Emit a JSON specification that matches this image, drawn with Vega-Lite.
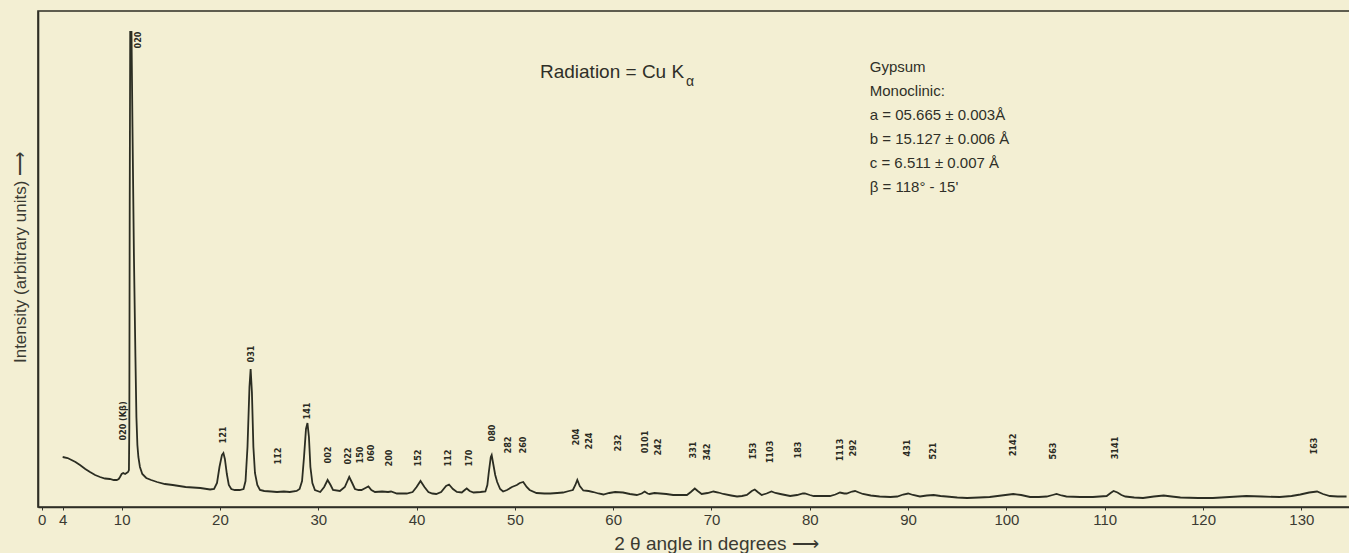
{
  "$schema": "https://vega.github.io/schema/vega-lite/v6.json",
  "width": 1312,
  "height": 496,
  "autosize": {"type": "none"},
  "padding": {"left": 38, "top": 11, "right": 0, "bottom": 46},
  "background": "#f3efd3",
  "config": {"view": {"stroke": "#2e2e25", "strokeWidth": 1.6}, "font": "Liberation Sans"},
  "datasets": {
    "pattern": [
      {"angle":4.0,"intensity":50},{"angle":4.5,"intensity":49},{"angle":4.9,"intensity":47},{"angle":5.3,"intensity":45},{"angle":5.76,"intensity":42},{"angle":6.3,"intensity":38},{"angle":6.78,"intensity":35},{"angle":7.3,"intensity":32},{"angle":7.8,"intensity":30},{"angle":8.3,"intensity":28.5},{"angle":8.8,"intensity":28},{"angle":9.2,"intensity":27},{"angle":9.5,"intensity":27},{"angle":9.7,"intensity":28},{"angle":9.83,"intensity":30},{"angle":10.0,"intensity":33},{"angle":10.16,"intensity":34},{"angle":10.35,"intensity":33},{"angle":10.5,"intensity":34},{"angle":10.65,"intensity":35},{"angle":10.74,"intensity":37},{"angle":10.78,"intensity":80},{"angle":10.82,"intensity":300},{"angle":10.87,"intensity":475},{"angle":11.0,"intensity":475},{"angle":11.1,"intensity":380},{"angle":11.25,"intensity":250},{"angle":11.4,"intensity":150},{"angle":11.5,"intensity":90},{"angle":11.6,"intensity":62},{"angle":11.7,"intensity":50},{"angle":11.86,"intensity":40},{"angle":12.1,"intensity":33},{"angle":12.5,"intensity":29},{"angle":13.0,"intensity":27},{"angle":13.6,"intensity":25},{"angle":14.4,"intensity":23},{"angle":15.2,"intensity":22},{"angle":16.5,"intensity":20},{"angle":18.0,"intensity":19},{"angle":19.0,"intensity":17.5},{"angle":19.4,"intensity":18},{"angle":19.7,"intensity":24},{"angle":19.95,"intensity":40},{"angle":20.2,"intensity":52},{"angle":20.35,"intensity":54},{"angle":20.5,"intensity":48},{"angle":20.7,"intensity":33},{"angle":20.9,"intensity":22},{"angle":21.15,"intensity":18},{"angle":21.5,"intensity":17},{"angle":22.0,"intensity":17},{"angle":22.4,"intensity":18},{"angle":22.6,"intensity":26},{"angle":22.8,"intensity":60},{"angle":23.0,"intensity":120},{"angle":23.12,"intensity":138},{"angle":23.25,"intensity":115},{"angle":23.4,"intensity":60},{"angle":23.56,"intensity":34},{"angle":23.8,"intensity":22},{"angle":24.07,"intensity":17},{"angle":24.5,"intensity":16},{"angle":25.2,"intensity":15.5},{"angle":25.8,"intensity":15},{"angle":26.5,"intensity":15.5},{"angle":27.1,"intensity":15},{"angle":27.8,"intensity":16},{"angle":28.1,"intensity":18},{"angle":28.35,"intensity":26},{"angle":28.55,"intensity":50},{"angle":28.75,"intensity":78},{"angle":28.9,"intensity":84},{"angle":29.05,"intensity":70},{"angle":29.2,"intensity":40},{"angle":29.4,"intensity":24},{"angle":29.66,"intensity":17},{"angle":30.2,"intensity":15},{"angle":30.6,"intensity":20},{"angle":30.95,"intensity":27},{"angle":31.25,"intensity":22},{"angle":31.5,"intensity":17},{"angle":32.2,"intensity":16},{"angle":32.7,"intensity":20},{"angle":33.15,"intensity":30},{"angle":33.45,"intensity":24},{"angle":33.73,"intensity":18},{"angle":34.1,"intensity":17},{"angle":34.4,"intensity":17},{"angle":34.8,"intensity":19},{"angle":35.1,"intensity":20.5},{"angle":35.4,"intensity":17},{"angle":35.77,"intensity":15},{"angle":36.5,"intensity":15.5},{"angle":37.1,"intensity":15},{"angle":37.4,"intensity":15.5},{"angle":38.0,"intensity":13.5},{"angle":39.0,"intensity":13.5},{"angle":39.6,"intensity":15},{"angle":40.0,"intensity":20},{"angle":40.4,"intensity":26},{"angle":40.8,"intensity":20},{"angle":41.2,"intensity":15},{"angle":41.6,"intensity":13.5},{"angle":42.0,"intensity":13},{"angle":42.5,"intensity":15},{"angle":43.0,"intensity":21},{"angle":43.3,"intensity":22.5},{"angle":43.7,"intensity":18},{"angle":44.1,"intensity":15},{"angle":44.6,"intensity":14.5},{"angle":44.9,"intensity":17},{"angle":45.1,"intensity":18.5},{"angle":45.4,"intensity":16},{"angle":45.8,"intensity":14.5},{"angle":46.5,"intensity":15},{"angle":47.0,"intensity":15.5},{"angle":47.2,"intensity":22},{"angle":47.35,"intensity":35},{"angle":47.55,"intensity":50},{"angle":47.64,"intensity":52},{"angle":47.8,"intensity":43},{"angle":48.0,"intensity":32},{"angle":48.2,"intensity":25},{"angle":48.5,"intensity":18},{"angle":48.8,"intensity":15.5},{"angle":49.2,"intensity":17},{"angle":49.7,"intensity":20},{"angle":50.2,"intensity":22},{"angle":50.5,"intensity":24},{"angle":50.85,"intensity":25},{"angle":51.2,"intensity":20},{"angle":51.5,"intensity":17},{"angle":52.2,"intensity":14},{"angle":53.0,"intensity":13.5},{"angle":53.6,"intensity":13.5},{"angle":54.3,"intensity":14},{"angle":54.9,"intensity":14.5},{"angle":55.5,"intensity":16},{"angle":55.9,"intensity":17},{"angle":56.15,"intensity":22},{"angle":56.35,"intensity":27},{"angle":56.6,"intensity":21},{"angle":56.96,"intensity":16.5},{"angle":57.5,"intensity":16},{"angle":57.98,"intensity":15},{"angle":58.5,"intensity":13.5},{"angle":59.0,"intensity":12.5},{"angle":59.6,"intensity":14},{"angle":60.2,"intensity":15},{"angle":61.0,"intensity":14.5},{"angle":61.7,"intensity":13},{"angle":62.4,"intensity":12},{"angle":62.9,"intensity":13.5},{"angle":63.2,"intensity":15.5},{"angle":63.5,"intensity":13.5},{"angle":63.7,"intensity":13},{"angle":64.2,"intensity":14},{"angle":64.8,"intensity":13.5},{"angle":65.4,"intensity":13},{"angle":66.1,"intensity":12},{"angle":67.5,"intensity":12},{"angle":67.9,"intensity":15},{"angle":68.3,"intensity":18.5},{"angle":68.6,"intensity":16},{"angle":69.0,"intensity":13},{"angle":69.6,"intensity":14},{"angle":70.2,"intensity":15.5},{"angle":70.7,"intensity":14.5},{"angle":71.2,"intensity":13},{"angle":72.0,"intensity":11.5},{"angle":72.6,"intensity":10.5},{"angle":73.1,"intensity":11},{"angle":73.6,"intensity":12},{"angle":74.1,"intensity":16},{"angle":74.4,"intensity":17.5},{"angle":74.7,"intensity":15},{"angle":75.1,"intensity":12},{"angle":75.6,"intensity":13.5},{"angle":76.1,"intensity":15.5},{"angle":76.5,"intensity":14},{"angle":77.0,"intensity":13},{"angle":77.5,"intensity":12},{"angle":78.0,"intensity":11},{"angle":78.7,"intensity":12},{"angle":79.3,"intensity":13.5},{"angle":79.5,"intensity":13.5},{"angle":80.0,"intensity":12},{"angle":80.4,"intensity":11},{"angle":81.2,"intensity":11},{"angle":82.05,"intensity":11},{"angle":82.6,"intensity":12.5},{"angle":83.07,"intensity":14.5},{"angle":83.5,"intensity":13.5},{"angle":83.75,"intensity":13.5},{"angle":84.3,"intensity":15.5},{"angle":84.6,"intensity":16},{"angle":85.0,"intensity":14.5},{"angle":85.4,"intensity":13},{"angle":86.2,"intensity":11.5},{"angle":87.1,"intensity":10.5},{"angle":88.2,"intensity":10},{"angle":88.9,"intensity":10.5},{"angle":89.5,"intensity":12.5},{"angle":90.0,"intensity":13.5},{"angle":90.5,"intensity":12},{"angle":91.2,"intensity":10.5},{"angle":91.9,"intensity":11.5},{"angle":92.6,"intensity":12},{"angle":93.3,"intensity":11},{"angle":93.9,"intensity":10.5},{"angle":95.0,"intensity":9.5},{"angle":96.0,"intensity":9},{"angle":97.2,"intensity":9.5},{"angle":98.3,"intensity":10},{"angle":99.5,"intensity":11.5},{"angle":100.7,"intensity":13},{"angle":101.5,"intensity":12},{"angle":102.4,"intensity":10},{"angle":103.3,"intensity":10},{"angle":104.1,"intensity":10.5},{"angle":104.7,"intensity":12},{"angle":105.1,"intensity":13},{"angle":105.6,"intensity":11.5},{"angle":106.1,"intensity":10.5},{"angle":107.5,"intensity":10},{"angle":108.8,"intensity":10},{"angle":109.5,"intensity":10.5},{"angle":110.2,"intensity":11},{"angle":110.6,"intensity":14},{"angle":110.9,"intensity":16},{"angle":111.3,"intensity":14.5},{"angle":111.7,"intensity":12},{"angle":112.1,"intensity":10.5},{"angle":113.0,"intensity":9.5},{"angle":113.9,"intensity":9},{"angle":115.0,"intensity":10.5},{"angle":116.0,"intensity":11.5},{"angle":116.8,"intensity":10.5},{"angle":117.7,"intensity":9.5},{"angle":119.5,"intensity":9},{"angle":121.0,"intensity":9},{"angle":122.7,"intensity":10},{"angle":124.4,"intensity":11},{"angle":126.0,"intensity":10.5},{"angle":127.8,"intensity":10},{"angle":129.0,"intensity":11},{"angle":129.9,"intensity":12.5},{"angle":130.8,"intensity":14.5},{"angle":131.6,"intensity":15.5},{"angle":132.2,"intensity":13},{"angle":132.9,"intensity":11},{"angle":133.7,"intensity":10.5},{"angle":134.6,"intensity":10.5}
    ],
    "peaks": [
      {"label":"020 (Kβ)","angle":10.13,"level":86},
      {"label":"020","angle":11.69,"level":467},
      {"label":"12̄1","angle":20.34,"level":72},
      {"label":"031","angle":23.12,"level":153},
      {"label":"11̄2","angle":25.9,"level":51},
      {"label":"14̄1","angle":28.82,"level":96},
      {"label":"002","angle":30.96,"level":52},
      {"label":"022","angle":33.05,"level":51},
      {"label":"150","angle":34.24,"level":52},
      {"label":"060","angle":35.36,"level":54},
      {"label":"200","angle":37.22,"level":49},
      {"label":"15̄2","angle":40.17,"level":49},
      {"label":"112","angle":43.22,"level":49},
      {"label":"170","angle":45.36,"level":49},
      {"label":"080","angle":47.67,"level":74},
      {"label":"28̄2","angle":49.33,"level":62},
      {"label":"260","angle":50.79,"level":62},
      {"label":"20̄4","angle":56.2,"level":70},
      {"label":"22̄4","angle":57.54,"level":66},
      {"label":"232","angle":60.52,"level":64},
      {"label":"0101","angle":63.23,"level":65},
      {"label":"242","angle":64.53,"level":60},
      {"label":"331","angle":68.15,"level":57},
      {"label":"3̄42","angle":69.51,"level":55},
      {"label":"1̄53","angle":74.25,"level":56},
      {"label":"1̄103","angle":75.95,"level":55},
      {"label":"183","angle":78.83,"level":57},
      {"label":"1̄113","angle":83.07,"level":57},
      {"label":"292","angle":84.42,"level":59},
      {"label":"431","angle":89.86,"level":59},
      {"label":"5̄21","angle":92.56,"level":56},
      {"label":"2̄142","angle":100.7,"level":62},
      {"label":"5̄63","angle":104.77,"level":56},
      {"label":"3̄141","angle":111.05,"level":59},
      {"label":"1̄63","angle":131.3,"level":61}
    ],
    "radiation": [{"text":"Radiation = Cu K","angle":52.55,"level":435}],
    "subscript": [{"text":"α","angle":67.4,"level":425}],
    "cell": [
      {"text":"Gypsum","angle":86.1,"level":440},
      {"text":"Monoclinic:","angle":86.1,"level":416},
      {"text":"a = 05.665 ± 0.003Å","angle":86.1,"level":392},
      {"text":"b = 15.127 ± 0.006 Å","angle":86.1,"level":368},
      {"text":"c = 6.511 ± 0.007 Å","angle":86.1,"level":344},
      {"text":"β = 118° - 15'","angle":86.1,"level":320}
    ]
  },
  "encoding": {
    "x": {"field":"angle","type":"quantitative","scale":{"domain":[1.49,134.95],"nice":false,"zero":false},
      "axis":{"values":[1.86,4,10,20,30,40,50,60,70,80,90,100,110,120,130],"labelExpr":"datum.value < 3 ? '0' : datum.label","labelOverlap":false,"labelFlush":false,"grid":false,"tickSize":3,"tickColor":"#33332b","domainColor":"#2e2e25","domainWidth":1.6,"labelFontSize":15,"labelColor":"#3a3a32","labelPadding":2,"labelFont":"Liberation Sans","title":"2 θ angle in degrees ⟶","titleFont":"Liberation Sans","titleFontSize":19,"titleFontWeight":"normal","titleColor":"#3a3a32","titleX":678,"titleY":36,"titleAlign":"center","titleBaseline":"middle"}},
    "y": {"field":"level","type":"quantitative","scale":{"domain":[0,496],"nice":false},
      "axis":{"labels":false,"ticks":false,"grid":false,"domainColor":"#2e2e25","domainWidth":1.6,"title":"Intensity  (arbitrary units) ⟶","titleFont":"Liberation Sans","titleFontSize":17,"titleFontWeight":"normal","titleColor":"#3a3a32","titleAngle":270,"titleX":-18,"titleY":246,"titleAlign":"center","titleBaseline":"middle"}}
  },
  "layer": [
    {"data":{"name":"pattern"},"mark":{"type":"line","color":"#2b2d22","strokeWidth":1.8},
     "encoding":{"y":{"field":"intensity","type":"quantitative"}}},
    {"data":{"name":"peaks"},"mark":{"type":"text","angle":270,"fontSize":9,"fontWeight":"bold","font":"Liberation Sans Narrow, DejaVu Sans Condensed, Liberation Sans","align":"center","baseline":"middle","color":"#2a2a22"},
     "encoding":{"text":{"field":"label"}}},
    {"data":{"name":"radiation"},"mark":{"type":"text","fontSize":19,"align":"left","baseline":"middle","color":"#2f2f28","font":"Liberation Sans"},
     "encoding":{"text":{"field":"text"}}},
    {"data":{"name":"subscript"},"mark":{"type":"text","fontSize":14,"align":"left","baseline":"middle","color":"#2f2f28","font":"Liberation Sans"},
     "encoding":{"text":{"field":"text"}}},
    {"data":{"name":"cell"},"mark":{"type":"text","fontSize":15,"align":"left","baseline":"middle","color":"#2f2f28","font":"Liberation Sans"},
     "encoding":{"text":{"field":"text"}}}
  ]
}
